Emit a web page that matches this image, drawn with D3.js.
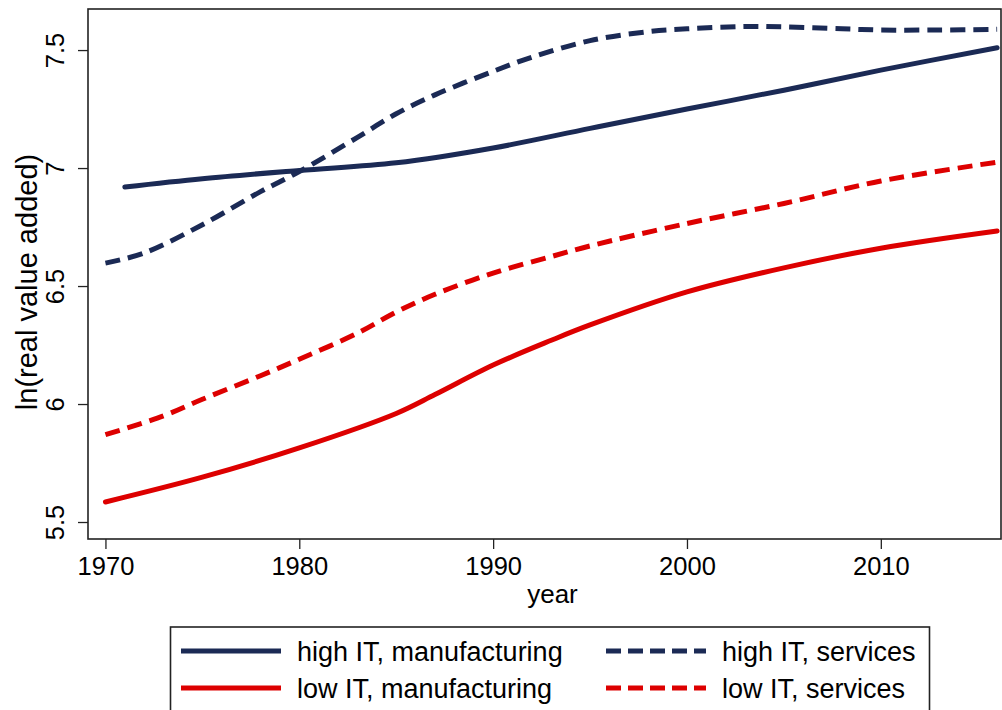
<!DOCTYPE html>
<html>
<head>
<meta charset="utf-8">
<script src="https://cdn.jsdelivr.net/npm/d3@7"></script>
<style>
  html, body { margin: 0; padding: 0; background: #fff; }
  svg { display: block; font-family: "Liberation Sans", Arial, Helvetica, sans-serif; }
</style>
</head>
<body>
<svg id="chart" width="1002" height="710"></svg>
<script>
// ---- data ----
const highManufYears = [1971, 1975, 1980, 1985, 1990, 1995, 2000, 2005, 2010, 2016];
const highManufVals  = [6.92, 6.955, 6.99, 7.022, 7.085, 7.168, 7.25, 7.33, 7.415, 7.51];

const highServYears = [1970, 1972, 1975, 1978, 1980, 1983, 1985, 1987, 1990, 1992, 1995, 1998, 2000, 2003, 2005, 2008, 2010, 2013, 2016];
const highServVals  = [6.597, 6.64, 6.76, 6.90, 6.985, 7.13, 7.23, 7.31, 7.41, 7.47, 7.54, 7.578, 7.59, 7.6, 7.598, 7.59, 7.585, 7.585, 7.588];

const lowManufYears = [1970, 1975, 1980, 1985, 1987, 1990, 1993, 1995, 2000, 2005, 2010, 2016];
const lowManufVals  = [5.585, 5.69, 5.814, 5.96, 6.04, 6.165, 6.27, 6.335, 6.475, 6.577, 6.66, 6.733];

const lowServYears = [1970, 1973, 1975, 1978, 1980, 1983, 1985, 1987, 1990, 1993, 1995, 2000, 2005, 2010, 2016];
const lowServVals  = [5.87, 5.95, 6.02, 6.12, 6.19, 6.30, 6.39, 6.465, 6.555, 6.625, 6.67, 6.765, 6.85, 6.945, 7.025];

const xTicks = [1970, 1980, 1990, 2000, 2010];
const yTicks = [5.5, 6, 6.5, 7, 7.5];

const seriesNames = ["high IT, manufacturing", "low IT, manufacturing", "high IT, services", "low IT, services"];

// ---- layout ----
const navy = "#1b2a55", red = "#dd0000";
const svg = d3.select("#chart");
const L = 88, R = 1001, T = 9, B = 539;

const x = d3.scaleLinear().domain([1969.1, 2016.2]).range([L, R]);
const y = d3.scaleLinear().domain([5.428, 7.674]).range([B, T]);

const zip = (xs, ys) => xs.map((d, i) => ({ year: d, v: ys[i] }));
const series = [
  { name: seriesNames[0], data: zip(highManufYears, highManufVals), color: navy, dash: null },
  { name: seriesNames[1], data: zip(lowManufYears, lowManufVals), color: red, dash: null },
  { name: seriesNames[2], data: zip(highServYears, highServVals), color: navy, dash: "15,8" },
  { name: seriesNames[3], data: zip(lowServYears, lowServVals), color: red, dash: "15,8" }
];

// frame
svg.append("rect").attr("x", L).attr("y", T).attr("width", R - L).attr("height", B - T)
  .attr("fill", "none").attr("stroke", "#222").attr("stroke-width", 1.6);

const line = d3.line().x(d => x(d.year)).y(d => y(d.v)).curve(d3.curveCatmullRom.alpha(0.5));
const plot = svg.append("g");
series.forEach(s => {
  plot.append("path").datum(s.data).attr("d", line)
    .attr("fill", "none").attr("stroke", s.color).attr("stroke-width", 5)
    .attr("stroke-linecap", s.dash ? "butt" : "round")
    .attr("stroke-dasharray", s.dash);
});

// x axis
const xAxis = d3.axisBottom(x).tickValues(xTicks).tickFormat(d3.format("d")).tickSize(10).tickSizeOuter(0);
const gx = svg.append("g").attr("transform", `translate(0,${B})`).call(xAxis);
gx.select(".domain").remove();
gx.selectAll("line").attr("stroke", "#222").attr("stroke-width", 1.3);
gx.selectAll("text").attr("font-size", 25.5).attr("fill", "#000").attr("dy", null).attr("y", 36)
  .attr("font-family", "Liberation Sans, Arial, sans-serif");

// y axis
const yAxis = d3.axisLeft(y).tickValues(yTicks).tickFormat(d => d3.format("")(d)).tickSize(10).tickSizeOuter(0);
const gy = svg.append("g").attr("transform", `translate(${L},0)`).call(yAxis);
gy.select(".domain").remove();
gy.selectAll("line").attr("stroke", "#222").attr("stroke-width", 1.3);
gy.selectAll("text")
  .attr("font-size", 25.5).attr("fill", "#000")
  .attr("font-family", "Liberation Sans, Arial, sans-serif")
  .attr("x", null).attr("dy", null)
  .attr("text-anchor", "middle")
  .attr("transform", "translate(-24,0) rotate(-90)");

// axis titles
svg.append("text").attr("x", (L + R) / 2 + 8).attr("y", 603).attr("text-anchor", "middle")
  .attr("font-size", 26).text("year");
svg.append("text").attr("transform", `translate(37,${(T + B) / 2 + 8}) rotate(-90)`)
  .attr("text-anchor", "middle").attr("font-size", 29).text("ln(real value added)");

// legend
const lg = svg.append("g");
lg.append("rect").attr("x", 170.5).attr("y", 627).attr("width", 759).attr("height", 100)
  .attr("fill", "#fff").attr("stroke", "#222").attr("stroke-width", 1.6);
const legendPos = [
  { x0: 181, x1: 281, tx: 297, y: 651 },
  { x0: 181, x1: 281, tx: 297, y: 688 },
  { x0: 606, x1: 706, tx: 722, y: 651 },
  { x0: 606, x1: 706, tx: 722, y: 688 }
];
series.forEach((s, i) => {
  const p = legendPos[i];
  lg.append("line").attr("x1", p.x0).attr("x2", p.x1).attr("y1", p.y).attr("y2", p.y)
    .attr("stroke", s.color).attr("stroke-width", 5).attr("stroke-dasharray", s.dash ? "15,7" : null);
  lg.append("text").attr("x", p.tx).attr("y", p.y + 9.5).attr("font-size", 27).text(s.name);
});
</script>
</body>
</html>
